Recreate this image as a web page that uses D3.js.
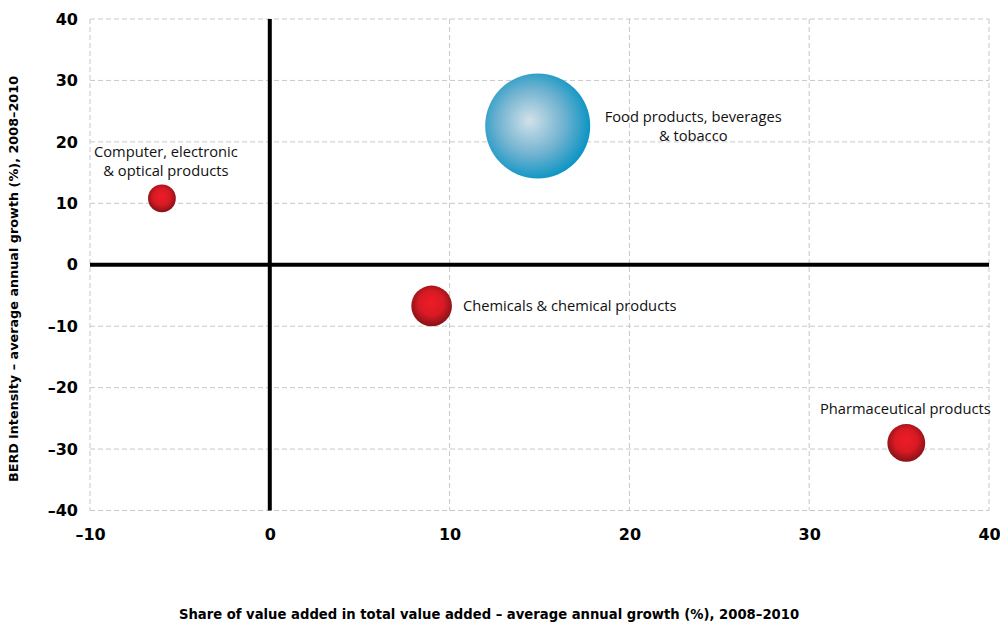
<!DOCTYPE html>
<html>
<head>
<meta charset="utf-8">
<script src="https://cdn.jsdelivr.net/npm/d3@7"></script>
<style>
  html, body { margin: 0; padding: 0; background: #fff; }
  svg { display: block; }
</style>
</head>
<body>
<script>
// Industry sectors, growth figures and bubble sizes
const sectors = ["Computer, electronic & optical products", "Food products, beverages & tobacco", "Chemicals & chemical products", "Pharmaceutical products"];
const valueAddedGrowth = [-6, 14.9, 9.0, 35.4];
const berdGrowth = [10.8, 22.6, -6.7, -29.0];
const bubbleSize = [0.7, 10, 1.5, 1.3];
const bubbleTone = ["red", "blue", "red", "red"];
const labelLines = [["Computer, electronic", "& optical products"], ["Food products, beverages", "& tobacco"], ["Chemicals & chemical products"], ["Pharmaceutical products"]];
const xTicks = [-10, 0, 10, 20, 30, 40];
const yTicks = [-40, -30, -20, -10, 0, 10, 20, 30, 40];
const xTitle = "Share of value added in total value added – average annual growth (%), 2008–2010";
const yTitle = "BERD intensity – average annual growth (%), 2008–2010";

const W = 1000, H = 623;
const svg = d3.select("body").append("svg").attr("width", W).attr("height", H);

const x = d3.scaleLinear().domain([-10, 40]).range([90, 989]);
const y = d3.scaleLinear().domain([-40, 40]).range([510.5, 19]);
const r = d3.scaleSqrt().domain([0, 10]).range([0, 52.5]);

// Gradients for the bubbles
const defs = svg.append("defs");
const red = defs.append("radialGradient").attr("id", "g-red")
  .attr("cx", "50%").attr("cy", "45%").attr("r", "55%").attr("fx", "48%").attr("fy", "42%");
red.append("stop").attr("offset", "0%").attr("stop-color", "#ef1c26");
red.append("stop").attr("offset", "55%").attr("stop-color", "#d81a24");
red.append("stop").attr("offset", "100%").attr("stop-color", "#861117");
const blue = defs.append("radialGradient").attr("id", "g-blue")
  .attr("cx", "45%").attr("cy", "47%").attr("r", "58%").attr("fx", "42%").attr("fy", "45%");
blue.append("stop").attr("offset", "0%").attr("stop-color", "#d2e1e9");
blue.append("stop").attr("offset", "55%").attr("stop-color", "#6fb2d0");
blue.append("stop").attr("offset", "100%").attr("stop-color", "#0091c2");

// Gridlines
const grid = svg.append("g");
grid.selectAll("line.gx").data(xTicks).join("line")
  .attr("x1", d => x(d)).attr("x2", d => x(d))
  .attr("y1", y(40)).attr("y2", y(-40))
  .attr("stroke", "#c8c8c8").attr("stroke-width", 1).attr("stroke-dasharray", "5,3");
grid.selectAll("line.gy").data(yTicks).join("line")
  .attr("x1", x(-10)).attr("x2", x(40))
  .attr("y1", d => y(d)).attr("y2", d => y(d))
  .attr("stroke", "#c8c8c8").attr("stroke-width", 1).attr("stroke-dasharray", "5,3");

// Axes (labels only)
const tickFont = "'DejaVu Sans', sans-serif";
const fmt = d => d < 0 ? "–" + Math.abs(d) : d;
const xAxis = svg.append("g").attr("transform", `translate(0,${y(-40)})`)
  .call(d3.axisBottom(x).tickValues(xTicks).tickSize(0).tickPadding(18).tickFormat(fmt));
const yAxis = svg.append("g").attr("transform", `translate(${x(-10)},0)`)
  .call(d3.axisLeft(y).tickValues(yTicks).tickSize(0).tickPadding(12).tickFormat(fmt));
[xAxis, yAxis].forEach(a => {
  a.select(".domain").remove();
  a.selectAll("text").attr("font-family", tickFont).attr("font-weight", "bold")
    .attr("font-size", 16).attr("fill", "#000");
});

// Zero lines
svg.append("line").attr("x1", x(0)).attr("x2", x(0)).attr("y1", y(40)).attr("y2", y(-40))
  .attr("stroke", "#000").attr("stroke-width", 4);
svg.append("line").attr("x1", x(-10)).attr("x2", x(40)).attr("y1", y(0)).attr("y2", y(0))
  .attr("stroke", "#000").attr("stroke-width", 4);

// Bubbles
const data = sectors.map((s, i) => ({ s, vx: valueAddedGrowth[i], vy: berdGrowth[i], size: bubbleSize[i], tone: bubbleTone[i], lines: labelLines[i] }));
svg.append("g").selectAll("circle").data(data).join("circle")
  .attr("cx", d => x(d.vx)).attr("cy", d => y(d.vy)).attr("r", d => r(d.size))
  .attr("fill", d => d.tone === "red" ? "url(#g-red)" : "url(#g-blue)");

// Bubble labels
const labelFont = "'Open Sans', sans-serif";
const labelPos = [
  d => [x(d.vx) + 4, y(d.vy) - r(d.size) - 28, "middle"],
  d => [x(d.vx) + r(d.size) + 103, y(d.vy) - 4, "middle"],
  d => [x(d.vx) + r(d.size) + 11, y(d.vy) + 5, "start"],
  d => [x(d.vx) - 1, y(d.vy) - r(d.size) - 10, "middle"]
];
const labels = svg.append("g");
data.forEach((d, i) => {
  const [lx, ly, anchor] = labelPos[i](d);
  const t = labels.append("text").attr("x", lx).attr("y", ly).attr("text-anchor", anchor)
    .attr("font-family", labelFont).attr("font-size", 14.7).attr("fill", "#111");
  d.lines.forEach((ln, j) => t.append("tspan").attr("x", lx).attr("dy", j === 0 ? 0 : 19).text(ln));
});

// Axis titles
svg.append("text").attr("x", 489).attr("y", 619).attr("text-anchor", "middle")
  .attr("font-family", tickFont).attr("font-weight", "bold").attr("font-size", 13.2).attr("fill", "#000")
  .text(xTitle);
svg.append("text").attr("transform", `translate(18,${279}) rotate(-90)`).attr("text-anchor", "middle")
  .attr("font-family", tickFont).attr("font-weight", "bold").attr("font-size", 12.8).attr("fill", "#000")
  .text(yTitle);
</script>
</body>
</html>
